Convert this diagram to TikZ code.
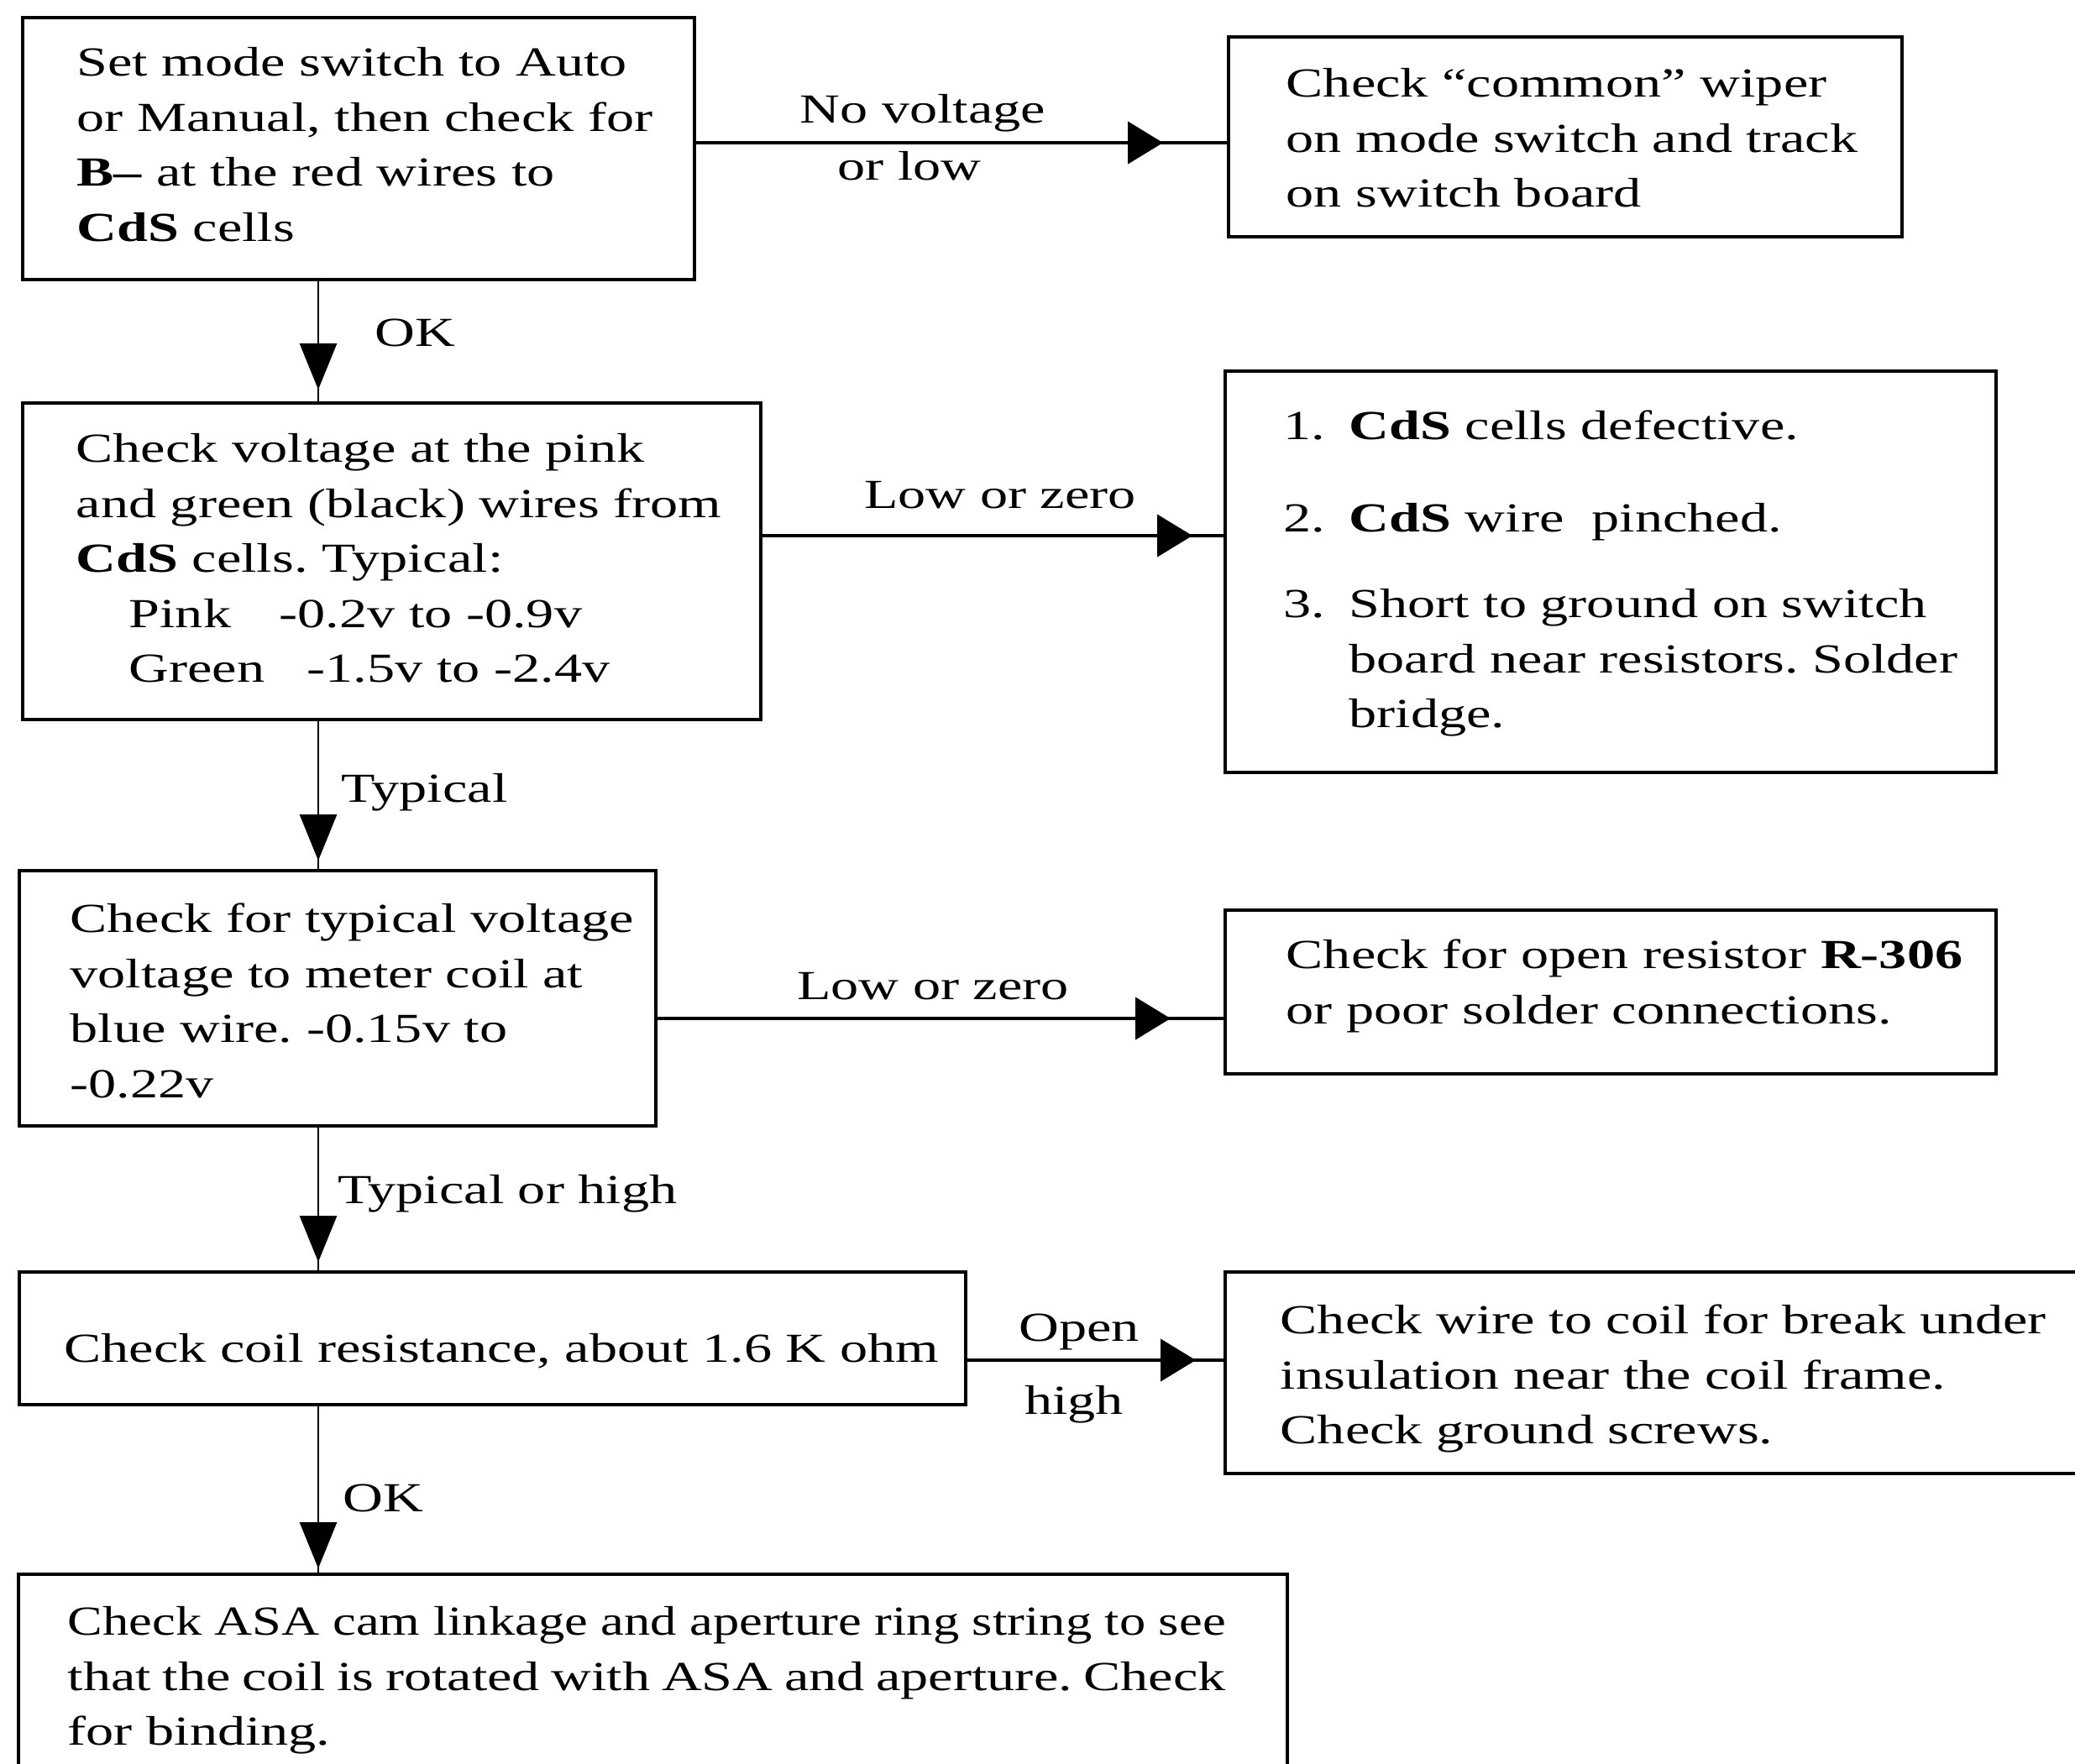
\documentclass[tikz,border=0pt]{standalone}
\usepackage{fontspec}
\setmainfont{Liberation Serif}[FakeStretch=1.346]
\newfontfamily\condfont{Liberation Serif}[FakeStretch=1.27]
\usetikzlibrary{arrows.meta}
\newcommand\fl{\rule{0pt}{14pt}}
\frenchspacing
\begin{document}
\begin{tikzpicture}[
  x=1cm,y=1cm,
  every node/.style={font=\frenchspacing\fontsize{14pt}{18.65pt}\selectfont},
  box/.style={draw, line width=1.2pt, rectangle, anchor=north west, inner sep=0pt},
  txt/.style={anchor=north west, inner sep=0pt, align=left},
  lbl/.style={anchor=base, inner sep=0pt},
  lblw/.style={anchor=base west, inner sep=0pt},
  hline/.style={line width=1.3pt},
  vline/.style={line width=0.8pt},
  harr/.style={hline, -{Triangle[length=0.42cm,width=0.50cm]}},
  varr/.style={vline, -{Triangle[length=0.55cm,width=0.44cm]}, shorten >=0.1cm},
]
\useasboundingbox[fill=white] (0,0) rectangle (24.71,-21.00);

% boxes
\node[box, minimum width=8.00cm, minimum height=3.12cm] (b1) at (0.25,-0.19) {};
\node[box, minimum width=8.02cm, minimum height=2.38cm] (r1) at (14.61,-0.42) {};
\node[box, minimum width=8.79cm, minimum height=3.77cm] (b2) at (0.25,-4.78) {};
\node[box, minimum width=9.18cm, minimum height=4.78cm] (r2) at (14.57,-4.40) {};
\node[box, minimum width=7.58cm, minimum height=3.04cm] (b3) at (0.21,-10.35) {};
\node[box, minimum width=9.18cm, minimum height=1.95cm] (r3) at (14.57,-10.82) {};
\node[box, minimum width=11.27cm, minimum height=1.58cm] (b4) at (0.21,-15.13) {};
\node[box, minimum width=10.50cm, minimum height=2.40cm] (r4) at (14.57,-15.13) {};
\node[box, minimum width=15.11cm, minimum height=2.35cm] (b5) at (0.20,-18.73) {};

% texts
\node[txt] (t1) at (0.91,-0.406) {\fl Set mode switch to Auto\\or Manual, then check for\\\textbf{B--} at the red wires to\\\textbf{CdS} cells};
\node[txt] (tr1) at (15.31,-0.656) {\fl Check “common” wiper\\on mode switch and track\\on switch board};
\node[txt] (t2) at (0.90,-5.006) {\fl Check voltage at the pink\\and green (black) wires from\\\textbf{CdS} cells. Typical:\\\hspace*{0.63cm}\makebox[1.79cm][l]{Pink}-0.2v to -0.9v\\\hspace*{0.63cm}\makebox[2.12cm][l]{Green}-1.5v to -2.4v};
\node[txt] (tr2) at (15.28,-4.736) {\fl\makebox[0.78cm][l]{1.}\textbf{CdS} cells defective.\\[0.445cm]\makebox[0.78cm][l]{2.}\textbf{CdS} wire\ \ pinched.\\[0.365cm]\makebox[0.78cm][l]{3.}Short to ground on switch\\\hspace*{0.78cm}board near resistors. Solder\\\hspace*{0.78cm}bridge.};
\node[txt] (t3) at (0.83,-10.606) {\fl Check for typical voltage\\voltage to meter coil at\\blue wire. -0.15v to\\-0.22v};
\node[txt] (tr3) at (15.31,-11.036) {\fl Check for open resistor \textbf{R-306}\\or poor solder connections.};
\node[txt] (t4) at (0.76,-15.726) {\fl Check coil resistance, about 1.6 K ohm};
\node[txt] (tr4) at (15.24,-15.386) {\fl Check wire to coil for break under\\insulation near the coil frame.\\Check ground screws.};
\node[txt] (t5) at (0.80,-18.976) {\condfont\fl\makebox[13.79cm][s]{Check ASA cam linkage and aperture ring string to see}\\\makebox[13.79cm][s]{that the coil is rotated with ASA and aperture. Check}\\for binding.};

% connector reference coordinates
\coordinate (sp) at (3.79,0);
\coordinate (h1) at (0,-1.70);
\coordinate (h2) at (0,-6.38);
\coordinate (h3) at (0,-12.13);
\coordinate (h4) at (0,-16.20);

% vertical connectors
\draw[vline] (sp |- b1.south) -- (sp |- b2.north);
\draw[varr, shorten >=0.14cm] (sp |- b1.south) -- (sp |- b2.north);
\draw[vline] (sp |- b2.south) -- (sp |- b3.north);
\draw[varr] (sp |- b2.south) -- (sp |- b3.north);
\draw[vline] (sp |- b3.south) -- (sp |- b4.north);
\draw[varr] (sp |- b3.south) -- (sp |- b4.north);
\draw[vline] (sp |- b4.south) -- (sp |- b5.north);
\draw[varr, shorten >=0.05cm] (sp |- b4.south) -- (sp |- b5.north);

% horizontal connectors
\draw[hline] (b1.east |- h1) -- (r1.west |- h1);
\draw[harr, shorten >=0.76cm] (b1.east |- h1) -- (r1.west |- h1);
\draw[hline] (b2.east |- h2) -- (r2.west |- h2);
\draw[harr, shorten >=0.37cm] (b2.east |- h2) -- (r2.west |- h2);
\draw[hline] (b3.east |- h3) -- (r3.west |- h3);
\draw[harr, shorten >=0.63cm] (b3.east |- h3) -- (r3.west |- h3);
\draw[hline] (b4.east |- h4) -- (r4.west |- h4);
\draw[harr, shorten >=0.33cm] (b4.east |- h4) -- (r4.west |- h4);

% labels
\node[lbl] (lno) at (10.99,-1.46) {No voltage};
\node[lbl] (lorlow) at (10.83,-2.14) {or low};
\node[lblw] (lok1) at (4.46,-4.12) {OK};
\node[lbl] (llow2) at (11.91,-6.05) {Low or zero};
\node[lblw] (ltyp) at (4.06,-9.55) {Typical};
\node[lbl] (llow3) at (11.11,-11.90) {Low or zero};
\node[lblw] (ltyph) at (4.02,-14.33) {Typical or high};
\node[lbl] (lopen) at (12.85,-15.97) {Open};
\node[lbl] (lhigh) at (12.79,-16.84) {high};
\node[lblw] (lok2) at (4.08,-18.00) {OK};
\end{tikzpicture}
\end{document}
